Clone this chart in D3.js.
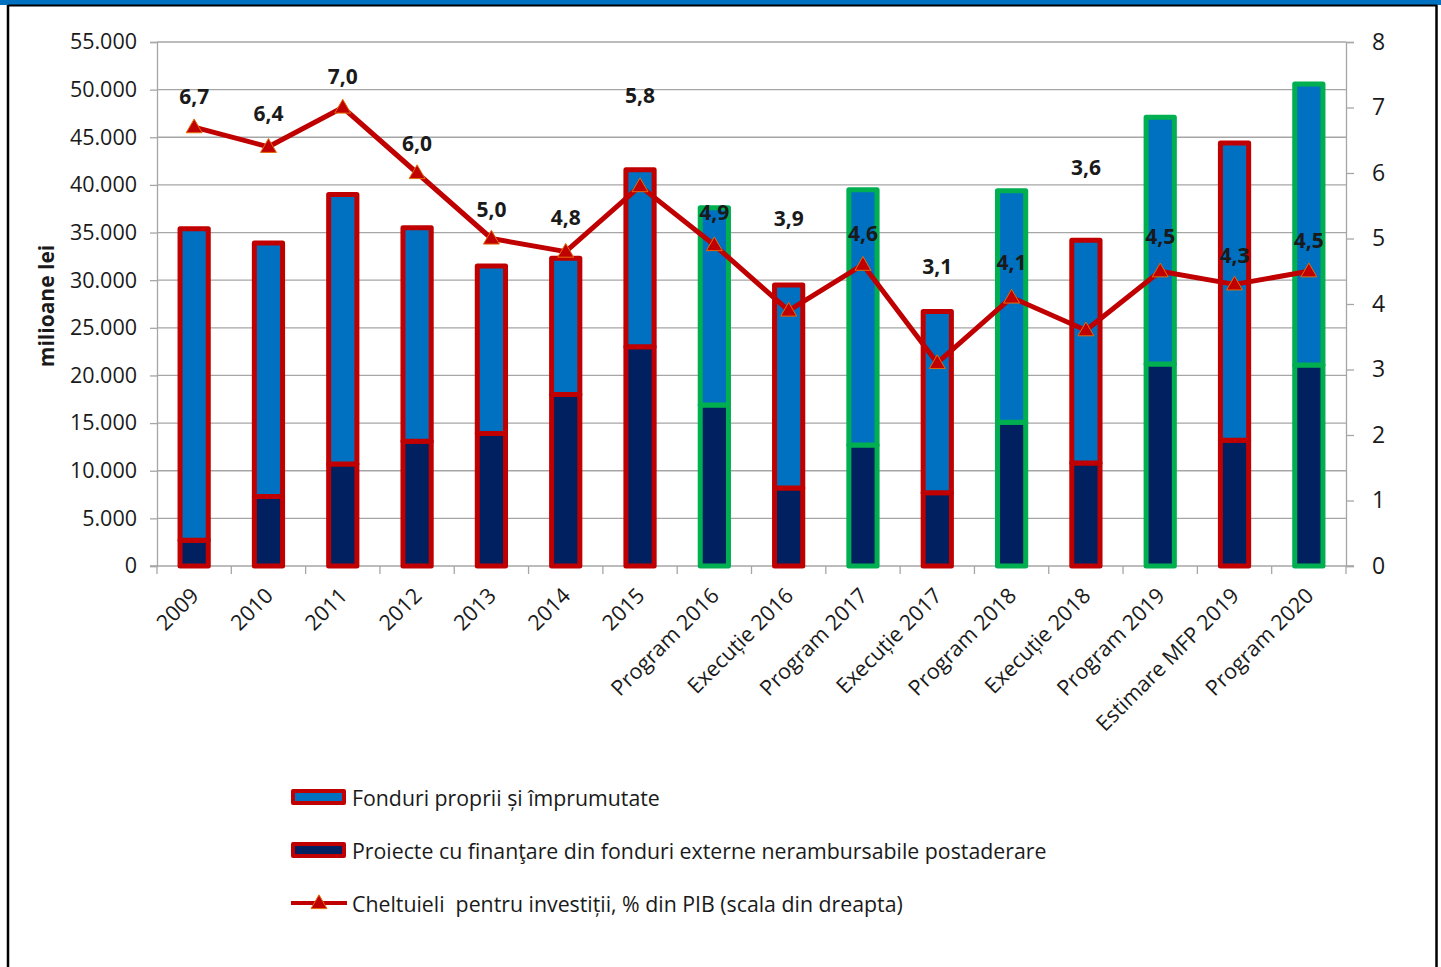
<!DOCTYPE html>
<html>
<head>
<meta charset="utf-8">
<script src="https://cdn.jsdelivr.net/npm/d3@7"></script>
<style>
  html, body { margin: 0; padding: 0; background: #fff; }
  svg { display: block; }
  text { font-family: "Open Sans", "Noto Sans", sans-serif; fill: #1a1a1a; }
  .lbl { white-space: pre; }
</style>
</head>
<body>
<svg id="chart" width="1441" height="967"></svg>
<script>
// Investment spending, budget programmes and executions (milioane lei)
const categories = ["2009", "2010", "2011", "2012", "2013", "2014", "2015",
  "Program 2016", "Execuție 2016", "Program 2017", "Execuție 2017",
  "Program 2018", "Execuție 2018", "Program 2019", "Estimare MFP 2019", "Program 2020"];

// Projects financed from non-reimbursable external funds (post-accession)
const externalFunds = [2700, 7300, 10700, 13100, 13900, 18000, 23000, 16900,
  8200, 12700, 7700, 15100, 10800, 21200, 13200, 21100];

// Own and borrowed funds
const ownFunds = [32700, 26600, 28300, 22400, 17600, 14300, 18600, 20700,
  21300, 26800, 19000, 24300, 23400, 25900, 31200, 29500];

// Investment spending, % of GDP (right axis)
const gdpShare = [6.7, 6.4, 7.0, 6.0, 5.0, 4.8, 5.8, 4.9, 3.9, 4.6, 3.1, 4.1, 3.6, 4.5, 4.3, 4.5];

const leftTicks = [0, 5000, 10000, 15000, 20000, 25000, 30000, 35000, 40000, 45000, 50000, 55000];
const rightTicks = [0, 1, 2, 3, 4, 5, 6, 7, 8];

const legendLabels = [
  "Fonduri proprii și împrumutate",
  "Proiecte cu finanţare din fonduri externe nerambursabile postaderare",
  "Cheltuieli  pentru investiții, % din PIB (scala din dreapta)"
];

// vertical shift (px) of each percentage label above its marker
const labelOffsets = [-31, -34, -32, -30, -30, -35, -91, -33, -93, -32, -97, -35, -163, -35, -29, -31];

const C = {
  blue: "#0070C0", navy: "#002060", red: "#C00000", green: "#00B050",
  grid: "#A6A6A6", marker: "#E36C09"
};

const svg = d3.select("#chart");
const plot = { left: 157, right: 1346, top: 42, bottom: 566 };

const x = d3.scaleBand().domain(categories).range([plot.left, plot.right]).paddingInner(0.62).paddingOuter(0.31);
const xBand = d3.scaleBand().domain(categories).range([plot.left, plot.right]);
const yL = d3.scaleLinear().domain([0, 55000]).range([plot.bottom, plot.top]);
const yR = d3.scaleLinear().domain([0, 8]).range([plot.bottom, plot.top]);

// outer frame
svg.append("rect").attr("x", 0).attr("y", 0).attr("width", 1441).attr("height", 5).attr("fill", C.blue);
svg.append("line").attr("x1", 8).attr("x2", 1437).attr("y1", 5.5).attr("y2", 5.5).attr("stroke", "#000").attr("stroke-width", 2);
svg.append("line").attr("x1", 8).attr("x2", 8).attr("y1", 5).attr("y2", 967).attr("stroke", "#000").attr("stroke-width", 2.5);
svg.append("line").attr("x1", 1436.5).attr("x2", 1436.5).attr("y1", 5).attr("y2", 967).attr("stroke", "#000").attr("stroke-width", 2.5);

const fmt = d => d === 0 ? "0" : d3.format(",")(d).replace(/,/g, ".");

// left axis with gridlines
const gL = svg.append("g").attr("transform", `translate(${plot.left},0)`)
  .call(d3.axisLeft(yL).tickValues(leftTicks).tickFormat(fmt).tickSize(7).tickPadding(13));
gL.selectAll(".tick line").attr("stroke", C.grid).attr("stroke-width", 1.3);
gL.select(".domain").attr("stroke", C.grid).attr("stroke-width", 1.3);
gL.selectAll(".tick text").attr("font-size", 21.5).attr("fill", "#262626").attr("font-family", "Open Sans");

svg.append("g").selectAll("line").data(leftTicks.filter(d => d > 0)).join("line")
  .attr("x1", plot.left).attr("x2", plot.right)
  .attr("y1", d => yL(d)).attr("y2", d => yL(d))
  .attr("stroke", C.grid).attr("stroke-width", 1.3);

// right axis
const gR = svg.append("g").attr("transform", `translate(${plot.right},0)`)
  .call(d3.axisRight(yR).tickValues(rightTicks).tickSize(8).tickPadding(18));
gR.selectAll(".tick line").attr("stroke", C.grid).attr("stroke-width", 1.3);
gR.select(".domain").attr("stroke", C.grid).attr("stroke-width", 1.3);
gR.selectAll(".tick text").attr("font-size", 23).attr("fill", "#262626").attr("font-family", "Open Sans");

// category axis: ticks between categories
const boundaries = categories.map(c => xBand(c)).concat([plot.right]);
svg.append("g").selectAll("line").data(boundaries).join("line")
  .attr("x1", d => d).attr("x2", d => d).attr("y1", plot.bottom).attr("y2", plot.bottom + 8)
  .attr("stroke", C.grid).attr("stroke-width", 1.3);
svg.append("line").attr("x1", plot.left - 7).attr("x2", plot.right + 8)
  .attr("y1", plot.bottom).attr("y2", plot.bottom).attr("stroke", C.grid).attr("stroke-width", 1.3);

svg.append("g").selectAll("text").data(categories).join("text")
  .attr("transform", d => `translate(${xBand(d) + xBand.bandwidth() / 2 + 6},${plot.bottom + 31}) rotate(-45)`)
  .attr("text-anchor", "end")
  .attr("font-size", 21.5).attr("fill", "#262626")
  .text(d => d);

// y-axis title
svg.append("text")
  .attr("transform", `translate(46,${(plot.top + plot.bottom) / 2 + 2}) rotate(-90)`)
  .attr("text-anchor", "middle").attr("dominant-baseline", "central")
  .attr("font-size", 21).attr("font-weight", "bold").attr("fill", "#000")
  .text("milioane lei");

// stacked bars
const stacked = categories.map((c, i) => ({
  c, ext: externalFunds[i], own: ownFunds[i],
  border: c.startsWith("Program") ? C.green : C.red
}));

const bars = svg.append("g");
const bw = x.bandwidth();
stacked.forEach(d => {
  bars.append("rect")
    .attr("x", x(d.c)).attr("width", bw)
    .attr("y", yL(d.ext)).attr("height", yL(0) - yL(d.ext))
    .attr("fill", C.navy).attr("stroke", d.border).attr("stroke-width", 5).attr("stroke-linejoin", "round");
  bars.append("rect")
    .attr("x", x(d.c)).attr("width", bw)
    .attr("y", yL(d.ext + d.own)).attr("height", yL(d.ext) - yL(d.ext + d.own))
    .attr("fill", C.blue).attr("stroke", d.border).attr("stroke-width", 5).attr("stroke-linejoin", "round");
});

// percentage of GDP line
const cx = c => xBand(c) + xBand.bandwidth() / 2;
const line = d3.line().x((d, i) => cx(categories[i])).y(d => yR(d));
svg.append("path").datum(gdpShare).attr("d", line)
  .attr("fill", "none").attr("stroke", C.red).attr("stroke-width", 5).attr("stroke-linejoin", "round");

const tri = d3.symbol().type(d3.symbolTriangle).size(110);
svg.append("g").selectAll("path").data(gdpShare).join("path")
  .attr("d", tri)
  .attr("transform", (d, i) => `translate(${cx(categories[i])},${yR(d) + 1})`)
  .attr("fill", C.red).attr("stroke", C.marker).attr("stroke-width", 1);

svg.append("g").selectAll("text").data(gdpShare).join("text")
  .attr("x", (d, i) => cx(categories[i]))
  .attr("y", (d, i) => yR(d) + labelOffsets[i])
  .attr("text-anchor", "middle").attr("dominant-baseline", "central")
  .attr("font-size", 21).attr("font-weight", "bold").attr("fill", "#000")
  .text(d => d3.format(".1f")(d).replace(".", ","));

// legend
const lg = svg.append("g");
const legendY = [797, 850, 903];
[C.blue, C.navy].forEach((fill, i) => {
  lg.append("rect").attr("x", 293).attr("y", legendY[i] - 6).attr("width", 51).attr("height", 12)
    .attr("fill", fill).attr("stroke", C.red).attr("stroke-width", 4).attr("stroke-linejoin", "round");
});
lg.append("line").attr("x1", 291).attr("x2", 347).attr("y1", legendY[2]).attr("y2", legendY[2])
  .attr("stroke", C.red).attr("stroke-width", 4);
lg.append("path").attr("d", tri).attr("transform", `translate(319,${legendY[2] + 1})`)
  .attr("fill", C.red).attr("stroke", C.marker).attr("stroke-width", 1);
lg.selectAll("text.lbl").data(legendLabels).join("text").attr("class", "lbl")
  .attr("x", 352).attr("y", (d, i) => legendY[i])
  .attr("dominant-baseline", "central")
  .attr("font-size", 21.3).attr("fill", "#262626")
  .text(d => d);
</script>
</body>
</html>
